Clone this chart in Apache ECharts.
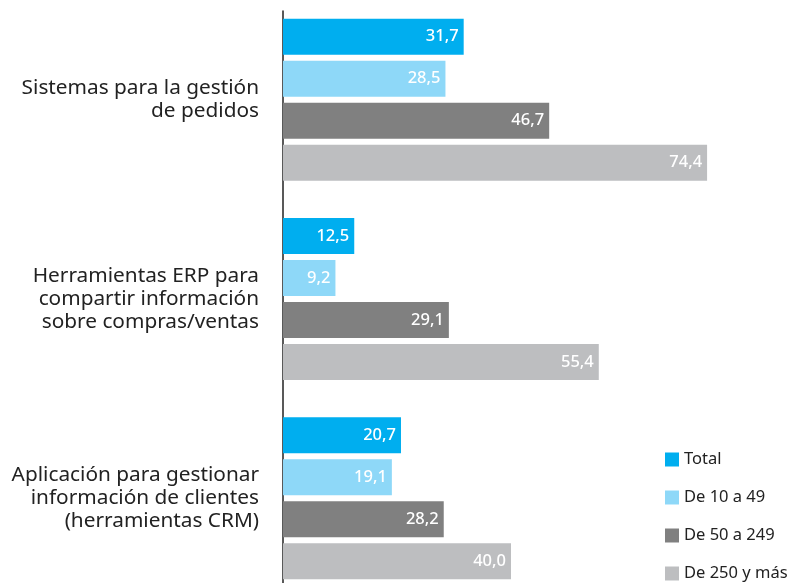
<!DOCTYPE html>
<html>
<head>
<meta charset="utf-8">
<script src="https://cdn.jsdelivr.net/npm/echarts@6/dist/echarts.min.js"></script>
<style>html,body{margin:0;padding:0;background:#fff}#c{width:792px;height:583px}</style>
</head>
<body>
<div id="c"></div>
<script>
const categories = [
  "Sistemas para la gestión\nde pedidos",
  "Herramientas ERP para\ncompartir información\nsobre compras/ventas",
  "Aplicación para gestionar\ninformación de clientes\n(herramientas CRM)"
];
const seriesNames = ["Total", "De 10 a 49", "De 50 a 249", "De 250 y más"];
const total = [31.7, 12.5, 20.7];
const de10a49 = [28.5, 9.2, 19.1];
const de50a249 = [46.7, 29.1, 28.2];
const de250 = [74.4, 55.4, 40.0];
const colors = ["#00AEEF", "#8ED8F8", "#808080", "#BDBEC0"];

const FONT = "Noto Sans";
const data = [total, de10a49, de50a249, de250];
const chart = echarts.init(document.getElementById('c'));
chart.setOption({
  animation: false,
  textStyle: { fontFamily: FONT },
  grid: [
    { left: 283, top: 0, height: 598, width: 456, containLabel: false, outerBoundsMode: 'none' },
    { left: 283, top: 11, bottom: 0, width: 456, containLabel: false, outerBoundsMode: 'none' }
  ],
  legend: {
    orient: 'vertical', left: 665, top: 451, padding: 0,
    itemWidth: 14, itemHeight: 14, itemGap: 21,
    icon: 'rect',
    textStyle: { fontSize: 16.5, color: '#222', fontFamily: FONT },
    data: seriesNames
  },
  xAxis: [
    { type: 'value', min: 0, max: 80, show: false, gridIndex: 0 },
    { type: 'value', min: 0, max: 80, show: false, gridIndex: 1 }
  ],
  yAxis: [
    {
      type: 'category', inverse: true, data: categories, gridIndex: 0,
      axisLine: { show: false },
      axisTick: { show: false },
      axisLabel: { fontSize: 20.8, color: '#222', align: 'right', margin: 24, lineHeight: 23, fontFamily: FONT }
    },
    {
      type: 'category', inverse: true, data: categories, gridIndex: 1,
      axisLine: { show: true, lineStyle: { color: '#222', width: 1.5 } },
      axisTick: { show: false },
      axisLabel: { show: false }
    }
  ],
  series: data.map((d, i) => ({
    name: seriesNames[i], type: 'bar', data: d,
    xAxisIndex: 0, yAxisIndex: 0,
    barWidth: 36, barGap: '16.7%',
    itemStyle: { color: colors[i] },
    label: {
      show: true, position: 'insideRight', distance: 5,
      color: '#fff', fontSize: 16.5, fontWeight: 500, fontFamily: FONT,
      formatter: p => p.value.toFixed(1).replace('.', ',')
    }
  }))
});
</script>
</body>
</html>
